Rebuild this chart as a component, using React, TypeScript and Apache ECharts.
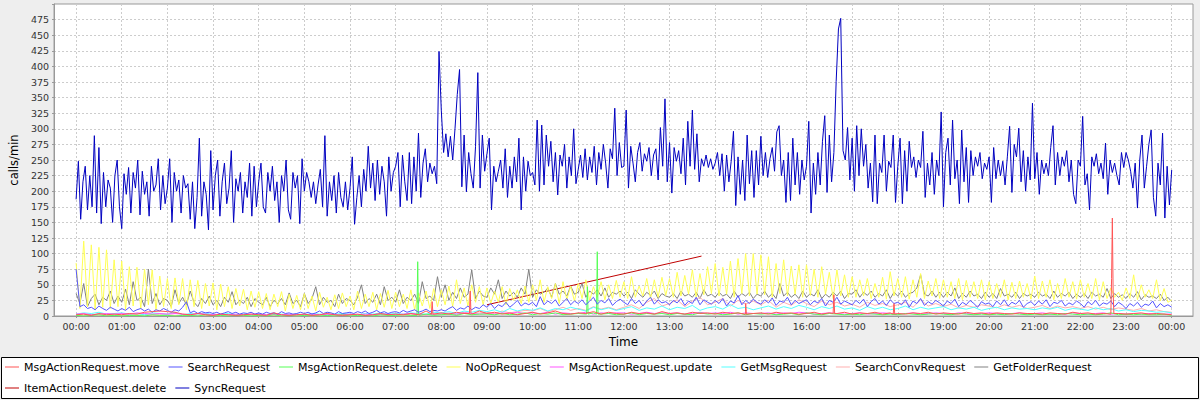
import React, { useEffect, useRef } from 'react';
import * as echarts from 'echarts';

const hourLabels = ['00:00','01:00','02:00','03:00','04:00','05:00','06:00','07:00','08:00','09:00','10:00','11:00','12:00','13:00','14:00','15:00','16:00','17:00','18:00','19:00','20:00','21:00','22:00','23:00','00:00'];
const yTicksMax = 500;

// SyncRequest, every 3 minutes 00:00 -> 24:00
const syncValues = [
187,248,155,215,240,170,225,175,289,165,270,148,230,175,218,205,150,225,250,175,
140,228,195,238,165,230,205,250,162,232,195,215,160,240,200,210,252,170,225,180,
205,252,150,230,200,218,165,225,205,212,155,215,140,190,285,160,215,195,138,265,
170,225,250,160,215,245,180,205,265,150,220,200,230,165,215,190,245,160,240,175,
215,245,175,165,230,200,240,185,215,150,225,200,250,170,155,230,205,225,148,252,
200,230,215,190,215,180,210,235,175,289,160,215,185,225,165,230,190,175,215,170,
205,255,147,190,225,175,235,200,272,205,245,185,250,195,240,215,160,255,200,230,
240,262,175,258,215,185,262,180,255,200,293,190,245,268,215,245,228,240,212,424,
330,262,292,255,288,250,300,355,395,207,290,199,262,228,205,272,390,205,290,232,
260,285,170,240,215,232,250,205,268,190,240,205,255,215,285,170,255,200,248,225,
230,210,314,200,306,210,290,240,280,215,262,194,258,240,275,205,255,225,300,212,
235,258,222,268,218,255,230,272,210,262,235,275,245,205,268,252,333,225,278,238,
240,330,205,272,245,215,262,278,232,260,248,270,225,258,268,218,302,240,348,215,
278,197,270,248,265,228,285,210,312,240,330,235,292,215,252,240,258,238,252,235,
245,262,225,260,200,258,215,248,296,177,255,195,250,185,290,212,265,190,265,210,
288,225,262,222,252,270,232,295,305,225,250,182,262,185,285,210,262,195,250,218,
240,312,165,245,195,262,210,280,321,198,290,215,262,376,460,477,265,250,302,218,
285,200,305,225,300,240,275,205,245,183,290,180,245,230,290,200,248,238,290,182,
240,285,180,265,200,280,238,255,222,250,238,296,190,245,210,262,195,250,225,327,
175,262,285,210,314,220,250,180,298,215,270,182,265,225,255,240,262,220,245,235,
255,182,270,220,250,225,248,210,255,304,198,275,255,301,215,265,200,255,218,341,
220,262,195,250,228,245,225,270,305,210,262,225,255,240,265,215,250,195,180,250,
240,320,210,228,170,255,240,260,228,245,220,277,195,250,230,245,225,210,262,238,
262,250,232,205,245,173,250,290,205,240,275,298,190,160,245,210,293,157,240,178,
234];

// every 5 minutes
const noOpValues = [
85,12,120,15,114,10,110,14,106,12,90,15,
88,10,79,16,78,12,75,18,74,10,64,15,
60,12,61,18,60,10,58,15,57,12,52,16,
53,10,51,15,47,12,44,16,43,10,40,14,
39,12,36,10,35,15,39,8,35,12,33,10,
36,12,32,8,38,14,30,10,34,12,37,15,
32,10,40,12,35,15,38,10,36,14,41,12,
38,15,35,12,42,10,37,16,40,12,44,15,
42,18,48,15,58,20,45,16,50,22,47,18,
45,20,40,22,47,18,44,25,42,20,48,22,
50,25,58,22,47,28,52,20,55,26,48,24,
52,28,58,25,47,30,55,26,50,28,57,30,
55,28,63,30,48,32,60,28,58,30,62,33,
60,30,70,32,65,35,74,30,68,34,79,36,
84,32,78,35,88,30,92,36,100,32,100,35,
98,34,95,30,84,36,90,32,80,35,82,30,
82,33,75,30,79,35,70,28,74,32,66,30,
63,30,58,32,60,28,52,30,62,27,71,32,
60,30,63,27,58,30,68,28,56,32,60,28,
58,30,55,28,60,26,57,30,55,28,58,26,
55,28,52,30,58,26,54,28,56,30,52,27,
64,28,56,30,58,26,52,28,60,30,55,27,
58,30,52,28,60,26,55,28,45,30,38,25,
45,28,66,26,50,30,42,28,58,24,44,22,
26];

const getFolderValues = [
36,20,52,15,28,35,18,30,25,40,20,32,
22,43,18,55,25,30,15,75,20,36,18,28,
25,15,42,20,30,18,40,22,15,28,20,32,
18,25,15,30,22,39,18,25,20,30,15,28,
22,18,30,15,25,20,28,18,37,20,25,15,
36,20,28,47,18,30,22,25,15,35,20,28,
25,18,30,50,20,28,22,35,18,47,25,30,
22,42,20,30,25,35,20,55,28,32,25,63,
30,50,25,38,28,45,30,35,74,28,40,32,
30,45,35,58,28,40,32,38,30,45,35,75,
30,42,35,38,45,30,52,35,40,32,48,35,
38,52,30,40,35,42,32,45,30,38,35,40,
32,38,28,42,35,30,38,33,40,28,36,32,
30,36,28,40,32,35,30,38,28,42,32,35,
30,38,32,35,28,40,30,36,32,38,28,35,
32,40,30,36,28,52,32,38,30,35,28,40,
30,36,32,42,28,35,30,38,32,40,28,36,
35,42,30,38,33,40,30,36,32,42,28,38,
32,40,30,36,38,45,66,35,32,40,30,38,
30,38,32,45,28,36,30,40,32,35,28,38,
30,36,28,44,32,35,30,38,28,36,32,35,
30,38,32,35,28,40,30,36,32,38,28,35,
30,36,28,38,32,35,30,44,28,36,30,34,
28,36,30,39,26,34,30,32,28,35,25,30,
23];

const searchValues = [
75,15,18,12,14,10,16,12,9,14,11,8,
12,9,14,7,10,12,8,11,6,10,8,12,
9,6,10,8,14,23,5,8,4,7,5,6,
4,6,3,5,7,4,6,3,5,4,6,3,
5,3,6,4,5,3,7,4,5,3,4,6,
4,6,3,5,8,4,6,5,3,7,4,5,
6,4,7,5,8,4,6,9,5,7,4,6,
7,5,9,6,8,10,6,8,11,7,9,8,
10,8,12,15,9,13,11,16,10,14,12,18,
14,20,12,18,15,22,14,19,25,16,21,18,
22,15,31,18,24,20,26,16,22,28,18,24,
20,26,18,24,30,19,25,21,28,17,23,27,
22,18,28,20,25,16,24,30,19,26,21,23,
18,25,21,28,17,24,20,30,18,26,22,19,
25,20,28,16,24,21,33,18,25,20,27,22,
19,26,21,29,17,24,22,30,18,25,20,23,
26,18,24,21,28,16,25,22,30,19,24,21,
18,25,20,27,15,23,28,19,24,17,26,20,
22,18,26,14,24,20,28,17,23,19,25,21,
16,24,20,27,15,22,18,25,20,14,23,19,
21,15,24,18,26,16,22,19,25,14,20,23,
17,24,19,26,15,22,20,25,16,21,18,24,
20,14,23,18,25,16,21,19,24,15,22,18,
12,20,16,22,14,19,17,24,13,20,15,18,
14];

// every 10 minutes
const moveValues = [
2,3,1,4,2,3, 2,4,3,6,7,8, 7,6,3,2,4,2, 1,3,2,1,2,3, 2,1,5,2,1,2, 3,1,2,4,2,1,
2,3,1,2,4,2, 3,2,4,2,8,3, 5,3,6,4,3,8, 4,6,3,5,2,4, 6,3,5,8,4,3, 5,4,7,3,6,4,
3,6,4,5,3,7, 4,5,3,6,4,5, 3,6,4,5,3,4, 5,3,6,4,5,3, 4,6,3,5,4,6, 3,5,4,6,3,5,
4,3,5,4,6,3, 5,4,3,6,4,5, 3,5,4,3,5,4, 4,3,5,4,3,6, 4,5,3,4,3,4, 3,4,5,3,4,3,
2];
const moveSpikes = [[467,3],[468,23],[469,3],[517,4],[518,40],[519,4],[879,3],[880,20],[881,3],[995,4],[996,34],[997,4],[1074,3],[1075,20],[1076,3],[1361,60],[1362,157],[1363,40],[1364,4]];

const msgDeleteValues = [
1,0,1,2,0,1, 0,1,1,0,2,1, 1,0,1,1,0,2, 0,1,0,1,1,0, 1,0,2,0,1,0, 1,1,0,1,0,2,
0,1,1,0,2,1, 1,2,1,2,3,1, 2,3,1,4,2,3, 3,2,4,2,3,5, 2,4,3,5,2,3, 4,3,5,3,4,2,
3,5,2,4,3,4, 2,4,3,2,5,3, 4,2,3,5,2,4, 3,4,2,3,4,2, 5,3,2,4,3,2, 3,2,4,3,2,3,
2,4,3,2,3,4, 3,2,4,3,2,3, 2,3,2,4,3,2, 3,2,3,2,4,3, 2,3,2,3,5,2, 3,2,3,2,2,3,
1];
const msgDeleteSpikes = [[448,1],[449,87],[451,1],[671,3],[672,47],[673,3],[684,3],[685,103],[686,3]];

const msgUpdateValues = [
3,4,2,3,4,3, 4,3,5,4,3,4, 3,4,3,2,4,3, 2,3,2,3,2,3, 3,2,3,2,3,2, 2,3,2,3,2,2,
3,2,3,2,3,3, 2,3,4,3,2,3, 3,4,3,5,4,3, 4,3,5,4,6,4, 5,4,6,3,5,4, 4,6,3,5,4,5,
5,3,4,6,4,5, 4,5,3,4,6,4, 5,4,6,3,5,4, 4,5,3,5,4,6, 5,3,4,5,4,3, 4,5,3,4,5,4,
3,4,5,3,4,5, 4,3,5,4,3,4, 5,4,3,4,5,3, 4,5,3,4,3,5, 4,3,4,5,3,4, 3,4,3,4,3,3,
3];

const getMsgValues = [
3,5,4,6,3,4, 5,3,4,2,5,4, 3,6,2,4,3,5, 2,3,4,2,3,2, 3,2,4,3,2,3, 2,4,3,2,3,4,
3,2,4,3,5,3, 4,3,5,4,3,6, 5,7,4,8,6,9, 7,10,6,12,8,11, 9,13,8,12,10,14, 11,8,14,10,13,9,
12,15,9,13,11,16, 10,14,12,17,9,13, 15,11,18,12,14,10, 13,16,11,15,12,17, 14,10,15,12,16,11, 13,9,15,11,14,10,
12,16,10,14,11,13, 15,10,13,11,14,9, 12,14,10,13,11,12, 10,13,11,14,9,12, 11,9,13,10,12,8, 10,7,9,8,6,7,
5];

const searchConvValues = [
2,1,3,1,2,1, 1,2,1,3,1,2, 2,1,1,2,1,1, 1,0,1,1,0,1, 0,1,1,0,1,0, 1,0,1,1,0,1,
1,2,1,1,2,1, 2,1,3,2,1,3, 3,5,2,6,4,5, 6,4,8,5,7,9, 8,12,7,10,14,9, 12,9,15,11,14,10,
14,18,12,22,28,16, 20,26,15,24,30,18, 22,28,16,25,19,24, 18,25,14,22,17,26, 20,15,24,18,22,16, 19,14,22,17,20,15,
18,22,14,26,16,20, 15,19,13,17,14,18, 16,13,18,14,17,12, 14,17,12,16,13,15, 12,15,11,14,10,13, 11,9,12,8,10,7,
6];

const itemDeleteTimes = [540, 822];
const itemDeleteValues = [18, 96];

const names = ['MsgActionRequest.move','SearchRequest','MsgActionRequest.delete','NoOpRequest','MsgActionRequest.update','GetMsgRequest','SearchConvRequest','GetFolderRequest','ItemActionRequest.delete','SyncRequest'];
const colors = ['#ff5555','#5555ff','#55ff55','#ffff55','#ff55ff','#55ffff','#ffafaf','#808080','#c00000','#0000c0'];

function toPoints(step: number, values: number[]) {
  return values.map((v, i) => [i * step, v]);
}
function withSpikes(points: number[][], spikes: number[][]) {
  return points.concat(spikes).sort((a, b) => a[0] - b[0]);
}

const FONT = '"DejaVu Sans", sans-serif';

export default function App() {
  const ref = useRef<HTMLDivElement>(null);
  useEffect(() => {
    const chart = echarts.init(ref.current!, null, { renderer: 'svg' });
    const datas = [
      withSpikes(toPoints(10, moveValues), moveSpikes),
      toPoints(5, searchValues),
      withSpikes(toPoints(10, msgDeleteValues), msgDeleteSpikes),
      toPoints(5, noOpValues),
      toPoints(10, msgUpdateValues),
      toPoints(10, getMsgValues),
      toPoints(10, searchConvValues),
      toPoints(5, getFolderValues),
      itemDeleteTimes.map((t, i) => [t, itemDeleteValues[i]]),
      toPoints(3, syncValues),
    ];
    const series = names.map((n, i) => ({
      name: n,
      type: 'line',
      data: datas[i],
      symbol: 'none',
      showSymbol: false,
      silent: true,
      lineStyle: { width: 1, color: colors[i] },
      itemStyle: { color: colors[i] },
      emphasis: { disabled: true },
    })).reverse();
    const hourTicks = hourLabels.map((_, i) => i * 60);
    chart.setOption({
      animation: false,
      backgroundColor: '#eeeeee',
      textStyle: { fontFamily: FONT },
      grid: { left: 53, top: 4, right: 7, bottom: 84, show: true, backgroundColor: '#ffffff', borderColor: '#999999', borderWidth: 1 },
      graphic: [{
        type: 'rect', z: 1, silent: true,
        shape: { x: 1.5, y: 357.5, width: 1197, height: 41 },
        style: { fill: '#ffffff', stroke: '#000000', lineWidth: 1 },
      }],
      legend: {
        z: 10,
        data: names,
        icon: 'rect',
        left: 5, top: 361, width: 1160,
        padding: 0,
        itemWidth: 14, itemHeight: 1, itemGap: 9,
        selectedMode: false,
        textStyle: { fontFamily: FONT, fontSize: 11, color: '#000', lineHeight: 12 },
      },
      xAxis: {
        type: 'value', min: -29, max: 1468,
        name: 'Time', nameLocation: 'middle', nameGap: 20,
        nameTextStyle: { fontFamily: FONT, fontSize: 12, color: '#000' },
        axisLine: { show: true, onZero: false, lineStyle: { color: '#999999' } },
        axisTick: { show: true, length: 2, customValues: hourTicks, lineStyle: { color: '#999999' } },
        axisLabel: {
          customValues: hourTicks,
          fontSize: 9.5, color: '#333', margin: 5, fontFamily: FONT,
          formatter: (v: number) => hourLabels[Math.round(v / 60)] ?? '',
        },
        splitLine: { show: true, lineStyle: { color: '#cccccc', type: [2, 2], width: 1 } },
      },
      yAxis: {
        type: 'value', min: 0, max: yTicksMax, interval: 25,
        name: 'calls/min', nameLocation: 'middle', nameGap: 29,
        nameTextStyle: { fontFamily: FONT, fontSize: 11.5, color: '#000' },
        axisLine: { show: true, onZero: false, lineStyle: { color: '#999999' } },
        axisTick: { show: true, length: 2, lineStyle: { color: '#999999' } },
        axisLabel: {
          fontSize: 9.5, color: '#333', margin: 5, fontFamily: FONT,
          formatter: (v: number) => (v >= yTicksMax ? '' : String(v)),
        },
        splitLine: { show: true, lineStyle: { color: '#cccccc', type: [2, 2], width: 1 } },
      },
      series,
    });
    return () => chart.dispose();
  }, []);
  return <div ref={ref} style={{ position: 'absolute', left: 0, top: 0, width: 1200, height: 400 }} />;
}
